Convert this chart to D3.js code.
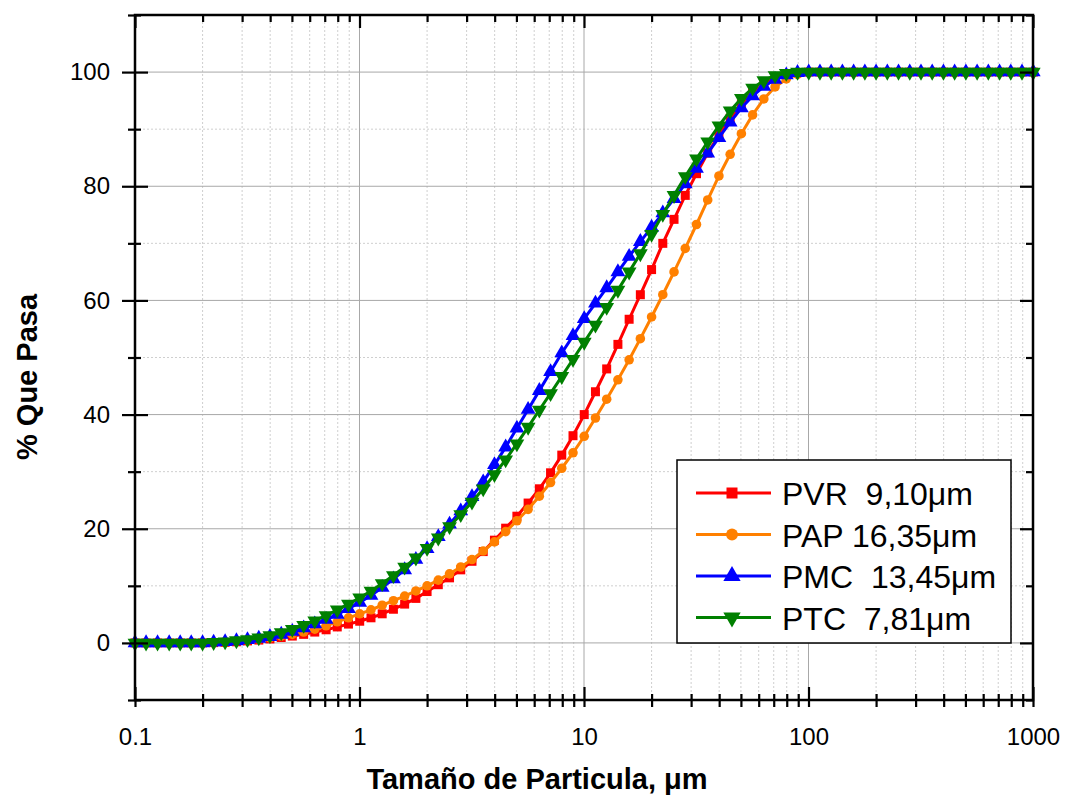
<!DOCTYPE html>
<html>
<head>
<meta charset="utf-8">
<script src="https://cdn.jsdelivr.net/npm/d3@7"></script>
<style>
  body { margin: 0; background: #fff; }
  svg { font-family: Arial, "Liberation Sans", sans-serif; }
</style>
</head>
<body>
<div id="chart"></div>
<script>
const width = 1065;
const height = 795;
const margins = {top: 15, right: 32, bottom: 95, left: 135};

// particle size classes (um)
const sizes = [0.100, 0.112, 0.126, 0.142, 0.159, 0.178, 0.200, 0.224, 0.252, 0.283,
  0.317, 0.356, 0.399, 0.448, 0.502, 0.564, 0.632, 0.710, 0.796, 0.893,
  1.002, 1.125, 1.262, 1.416, 1.589, 1.783, 2.000, 2.244, 2.518, 2.825,
  3.170, 3.557, 3.991, 4.477, 5.024, 5.637, 6.325, 7.096, 7.962, 8.934,
  10.024, 11.247, 12.619, 14.159, 15.887, 17.825, 20.000, 22.440, 25.179, 28.251,
  31.698, 35.566, 39.905, 44.774, 50.238, 56.368, 63.246, 70.963, 79.621, 89.337,
  100.237, 112.468, 126.191, 141.589, 158.866, 178.250, 200.000, 224.404, 251.785, 282.508,
  316.979, 355.656, 399.052, 447.744, 502.377, 563.677, 632.456, 709.627, 796.214, 893.367,
  1002.374];

// % passing per sample
const pvr = [0, 0, 0, 0, 0, 0, 0, 0.05, 0.1, 0.2,
  0.35, 0.5, 0.7, 0.95, 1.2, 1.5, 1.9, 2.3, 2.8, 3.3,
  3.8, 4.4, 5.1, 5.9, 6.8, 7.8, 9.0, 10.2, 11.4, 12.8,
  14.3, 16.0, 18.0, 20.1, 22.2, 24.5, 27.0, 29.8, 32.9, 36.3,
  40.0, 44.0, 48.0, 52.3, 56.7, 61.0, 65.4, 70.0, 74.2, 78.4,
  82.2, 85.8, 89.0, 91.9, 94.4, 96.4, 97.9, 99.0, 99.6, 99.9,
  100, 100, 100, 100, 100, 100, 100, 100, 100, 100,
  100, 100, 100, 100, 100, 100, 100, 100, 100, 100, 100];

const pap = [0, 0, 0, 0, 0, 0, 0, 0.05, 0.15, 0.3,
  0.45, 0.65, 0.9, 1.2, 1.5, 1.9, 2.4, 3.0, 3.7, 4.4,
  5.1, 5.8, 6.6, 7.4, 8.2, 9.1, 10.0, 11.0, 12.1, 13.3,
  14.6, 16.1, 17.7, 19.5, 21.4, 23.4, 25.7, 28.1, 30.6, 33.3,
  36.2, 39.4, 42.7, 46.1, 49.6, 53.3, 57.1, 61.0, 65.0, 69.1,
  73.3, 77.6, 81.8, 85.6, 89.2, 92.5, 95.3, 97.4, 98.8, 99.6,
  100, 100, 100, 100, 100, 100, 100, 100, 100, 100,
  100, 100, 100, 100, 100, 100, 100, 100, 100, 100, 100];

const pmc = [0, 0, 0, 0, 0, 0, 0, 0.1, 0.2, 0.35,
  0.55, 0.8, 1.1, 1.5, 2.0, 2.6, 3.3, 4.1, 5.0, 6.0,
  7.1, 8.3, 9.7, 11.2, 12.8, 14.6, 16.5, 18.6, 20.8, 23.1,
  25.6, 28.2, 31.2, 34.3, 37.6, 40.9, 44.2, 47.5, 50.8, 53.8,
  56.8, 59.5, 62.2, 65.0, 67.7, 70.3, 72.8, 75.3, 77.8, 80.4,
  83.1, 85.8, 88.5, 91.2, 93.7, 95.8, 97.5, 98.7, 99.5, 99.9,
  100, 100, 100, 100, 100, 100, 100, 100, 100, 100,
  100, 100, 100, 100, 100, 100, 100, 100, 100, 100, 100];

const ptc = [0, 0, 0, 0, 0, 0, 0, 0.1, 0.2, 0.4,
  0.6, 0.9, 1.3, 1.8, 2.4, 3.1, 3.9, 4.8, 5.8, 6.8,
  7.9, 9.1, 10.4, 11.8, 13.3, 14.9, 16.6, 18.4, 20.4, 22.5,
  24.7, 27.0, 29.5, 32.1, 34.9, 37.8, 40.8, 43.7, 46.7, 49.7,
  52.7, 55.7, 58.8, 61.8, 65.0, 68.2, 71.6, 75.1, 78.4, 81.7,
  84.8, 87.8, 90.6, 93.2, 95.4, 97.2, 98.5, 99.4, 99.8, 100,
  100, 100, 100, 100, 100, 100, 100, 100, 100, 100,
  100, 100, 100, 100, 100, 100, 100, 100, 100, 100, 100];

const seriesNames = ["PVR  9,10\u03bcm", "PAP 16,35\u03bcm", "PMC  13,45\u03bcm", "PTC  7,81\u03bcm"];
const seriesColors = ["#ff0000", "#ff8000", "#0000ff", "#008000"];
const seriesValues = [pvr, pap, pmc, ptc];

const xMajor = [0.1, 1, 10, 100, 1000];
const xLabels = ["0.1", "1", "10", "100", "1000"];
const yMajor = [0, 20, 40, 60, 80, 100];
const yMinor = [-10, 10, 30, 50, 70, 90, 110];

const svg = d3.select("#chart").append("svg")
  .attr("width", width)
  .attr("height", height);

const x = d3.scaleLog()
  .domain([0.1, 1000])
  .range([margins.left, width - margins.right]);

const y = d3.scaleLinear()
  .domain([-10, 110])
  .range([height - margins.bottom, margins.top]);

const x0 = x.range()[0], x1 = x.range()[1];
const y0 = y.range()[0], y1 = y.range()[1];

// minor log ticks (2..9 of every decade)
const xMinor = x.ticks().filter(v => !xMajor.some(m => Math.abs(m - v) / m < 1e-6));

// grid
const grid = svg.append("g");
grid.selectAll(".vminor").data(xMinor).join("line")
  .attr("x1", d => x(d)).attr("x2", d => x(d))
  .attr("y1", y0).attr("y2", y1)
  .attr("stroke", "#cfcfcf").attr("stroke-width", 1).attr("stroke-dasharray", "2,2");
grid.selectAll(".hminor").data(yMinor).join("line")
  .attr("y1", d => y(d)).attr("y2", d => y(d))
  .attr("x1", x0).attr("x2", x1)
  .attr("stroke", "#cfcfcf").attr("stroke-width", 1).attr("stroke-dasharray", "2,2");
grid.selectAll(".vmajor").data(xMajor).join("line")
  .attr("x1", d => x(d)).attr("x2", d => x(d))
  .attr("y1", y0).attr("y2", y1)
  .attr("stroke", "#a8a8a8").attr("stroke-width", 1);
grid.selectAll(".hmajor").data(yMajor).join("line")
  .attr("y1", d => y(d)).attr("y2", d => y(d))
  .attr("x1", x0).attr("x2", x1)
  .attr("stroke", "#a8a8a8").attr("stroke-width", 1);

// series
const line = d3.line()
  .x((d, i) => x(sizes[i]))
  .y(d => y(d));

const symbols = [
  d3.symbol().type(d3.symbolSquare).size(81),
  d3.symbol().type(d3.symbolCircle).size(72),
  d3.symbol().type(d3.symbolTriangle).size(95),
  d3.symbol().type(d3.symbolTriangle).size(95)
];
const rotations = [0, 0, 0, 180];

seriesValues.forEach(function (vals, k) {
  const g = svg.append("g");
  g.append("path")
    .datum(vals)
    .attr("d", line)
    .attr("fill", "none")
    .attr("stroke", seriesColors[k])
    .attr("stroke-width", 3);
  g.selectAll("path.mk")
    .data(vals)
    .join("path")
    .attr("class", "mk")
    .attr("d", symbols[k])
    .attr("fill", seriesColors[k])
    .attr("transform", (d, i) => "translate(" + x(sizes[i]) + "," + y(d) + ") rotate(" + rotations[k] + ")");
});

// axes
function styleAxis(g) {
  g.select(".domain").remove();
  g.selectAll(".tick line").attr("stroke", "#000").attr("stroke-width", 2.2);
  g.selectAll("text").attr("font-size", "24px").attr("fill", "#000")
    .attr("font-family", "Arial, 'Liberation Sans', sans-serif");
}

// bottom
svg.append("g").attr("transform", "translate(0," + y0 + ")")
  .call(d3.axisBottom(x).tickValues(xMajor).tickSize(7).tickPadding(21)
    .tickFormat((d, i) => xLabels[i]))
  .call(styleAxis);
svg.append("g").attr("transform", "translate(0," + y0 + ")")
  .call(d3.axisBottom(x).tickValues(xMajor).tickSize(-13).tickFormat(""))
  .call(styleAxis);
svg.append("g").attr("transform", "translate(0," + y0 + ")")
  .call(d3.axisBottom(x).tickValues(xMinor).tickSize(7).tickFormat(""))
  .call(styleAxis);
svg.append("g").attr("transform", "translate(0," + y0 + ")")
  .call(d3.axisBottom(x).tickValues(xMinor).tickSize(-6).tickFormat(""))
  .call(styleAxis);

// top (inward)
svg.append("g").attr("transform", "translate(0," + y1 + ")")
  .call(d3.axisTop(x).tickValues(xMajor).tickSize(-13).tickFormat(""))
  .call(styleAxis);
svg.append("g").attr("transform", "translate(0," + y1 + ")")
  .call(d3.axisTop(x).tickValues(xMinor).tickSize(-7).tickFormat(""))
  .call(styleAxis);

// left
svg.append("g").attr("transform", "translate(" + x0 + ",0)")
  .call(d3.axisLeft(y).tickValues(yMajor).tickSize(13).tickPadding(12))
  .call(styleAxis);
svg.append("g").attr("transform", "translate(" + x0 + ",0)")
  .call(d3.axisLeft(y).tickValues(yMajor).tickSize(-13).tickFormat(""))
  .call(styleAxis);
svg.append("g").attr("transform", "translate(" + x0 + ",0)")
  .call(d3.axisLeft(y).tickValues(yMinor).tickSize(7).tickFormat(""))
  .call(styleAxis);
svg.append("g").attr("transform", "translate(" + x0 + ",0)")
  .call(d3.axisLeft(y).tickValues(yMinor).tickSize(-6).tickFormat(""))
  .call(styleAxis);

// right (inward)
svg.append("g").attr("transform", "translate(" + x1 + ",0)")
  .call(d3.axisRight(y).tickValues(yMajor).tickSize(-13).tickFormat(""))
  .call(styleAxis);
svg.append("g").attr("transform", "translate(" + x1 + ",0)")
  .call(d3.axisRight(y).tickValues(yMinor).tickSize(-7).tickFormat(""))
  .call(styleAxis);

// frame
svg.append("rect")
  .attr("x", x0).attr("y", y1)
  .attr("width", x1 - x0).attr("height", y0 - y1)
  .attr("fill", "none").attr("stroke", "#000").attr("stroke-width", 2.5);

// axis titles
svg.append("text")
  .attr("x", 537).attr("y", 789)
  .attr("text-anchor", "middle")
  .attr("font-size", "29px").attr("font-weight", "bold")
  .text("Tamaño de Particula, \u03bcm");

svg.append("text")
  .attr("transform", "translate(37,377) rotate(-90)")
  .attr("text-anchor", "middle")
  .attr("font-size", "29px").attr("font-weight", "bold")
  .text("% Que Pasa");

// legend
const legend = svg.append("g");
legend.append("rect")
  .attr("x", 677).attr("y", 460)
  .attr("width", 334).attr("height", 183)
  .attr("fill", "#fff").attr("stroke", "#000").attr("stroke-width", 1.5);

const legendSymbols = [
  d3.symbol().type(d3.symbolSquare).size(121),
  d3.symbol().type(d3.symbolCircle).size(110),
  d3.symbol().type(d3.symbolTriangle).size(130),
  d3.symbol().type(d3.symbolTriangle).size(130)
];

seriesNames.forEach(function (name, k) {
  const cy = 493 + k * 41.5;
  legend.append("line")
    .attr("x1", 696).attr("x2", 771)
    .attr("y1", cy).attr("y2", cy)
    .attr("stroke", seriesColors[k]).attr("stroke-width", 3);
  legend.append("path")
    .attr("d", legendSymbols[k])
    .attr("fill", seriesColors[k])
    .attr("transform", "translate(732," + cy + ") rotate(" + rotations[k] + ")");
  legend.append("text")
    .attr("x", 782).attr("y", cy + 12)
    .attr("font-size", "32px")
    .style("white-space", "pre")
    .attr("xml:space", "preserve")
    .text(name);
});
</script>
</body>
</html>
